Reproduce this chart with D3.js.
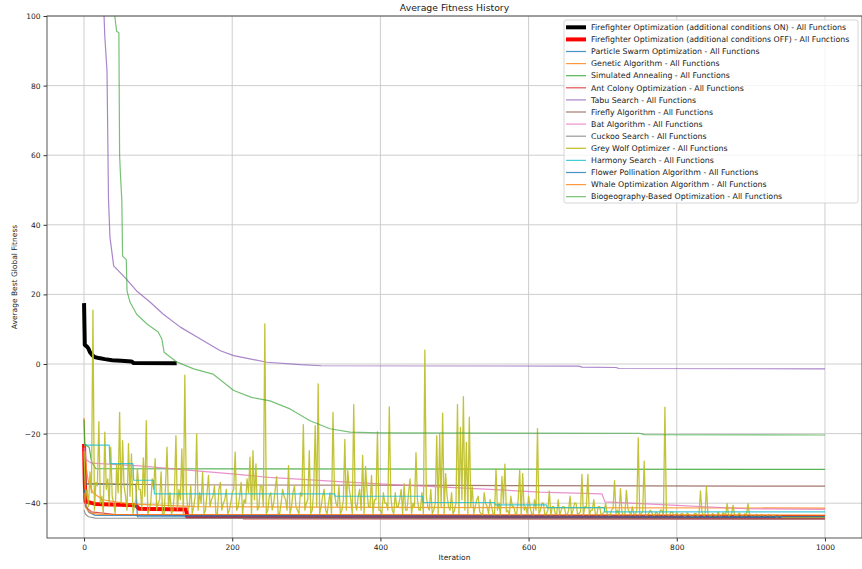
<!DOCTYPE html>
<html>
<head>
<meta charset="utf-8">
<script src="https://cdn.jsdelivr.net/npm/d3@7"></script>
<style>
    body { margin: 0; background: #fff; }
    svg { display: block; font-family: "DejaVu Sans", sans-serif; }
</style>
</head>
<body>
<div id="chart"></div>
<script>
const width = 862, height = 569;
const plot = { left: 47, right: 862, top: 16, bottom: 538 };

const iterTicks = [0, 200, 400, 600, 800, 1000];
const fitnessTicks = [-40, -20, 0, 20, 40, 60, 80, 100];

// [iteration, average best fitness], read where each curve changes
const ffOn = [[0, 17.5], [1, 5.5], [4, 5.0], [6, 4.4], [8, 3.4], [11, 2.6], [14, 2.0], [20, 1.7], [28, 1.4],
    [38, 1.1], [50, 0.9], [64, 0.7], [67, 0.3], [125, 0.2]];
const ffOff = [[0, -23], [1, -34], [2, -39.5], [15, -40.2], [70, -40.6], [74, -41.6], [138, -41.8], [139, -43.8], [1000, -44.0]];
const particleSwarm = [[0, -25], [1, -33], [3, -34.5], [70, -34.7], [72, -43.9], [1000, -44.1]];
const geneticAlg = [[0, -15.5], [1, -24], [3, -30], [6, -34], [12, -37], [25, -39], [60, -40.2], [150, -41], [400, -41.2], [1000, -41.4]];
const annealing = [[0, -16], [1, -23], [7, -24], [10, -28], [16, -30.1], [1000, -30.3]];
const antColony = [[0, -38], [2, -41], [10, -42.5], [40, -43.2], [214, -43.6], [215, -44.5], [1000, -44.6]];
const tabu = [[0, 500], [25, 110], [27, 100], [28, 94.2], [31, 84.1], [33, 47.3], [35, 36.4], [40, 28.2], [55, 24.9],
    [71, 21], [89, 17.8], [107, 14.3], [130, 10.6], [157, 7.2], [184, 3.8], [202, 2.4], [247, 0.5], [292, -0.2],
    [320, -0.5], [668, -0.6], [672, -0.9], [718, -1.0], [722, -1.3], [1000, -1.4]];
const firefly = [[0, -24], [1, -31], [3, -34.3], [100, -34.7], [500, -34.9], [1000, -35.1]];
const bat = [[0, -24], [3, -27.5], [10, -28.5], [75, -29.3], [140, -30.5], [200, -31.6], [250, -32.6], [345, -33.8],
    [430, -34.8], [528, -35.8], [615, -36.8], [699, -37.3], [703, -39.6], [800, -40.6], [892, -41.6], [1000, -41.8]];
const cuckoo = [[0, -42], [2, -43.2], [6, -43.9], [15, -44.3], [1000, -44.5]];
const harmony = [[0, -23.3], [34, -23.3], [35, -28.6], [66, -28.6], [67, -33.4], [94, -33.4], [95, -37.3], [338, -37.3],
    [339, -38], [457, -38], [458, -39.8], [554, -39.8], [555, -40.5], [624, -40.5], [625, -41.3], [702, -41.3],
    [703, -42.5], [1000, -42.5]];
const flowerPollination = [[0, -36], [2, -40], [6, -42.5], [15, -43.5], [1000, -43.8]];
const whale = [[0, -37], [3, -41.5], [8, -42.8], [20, -43.2], [1000, -43.4]];
const biogeography = [[0, 400], [35, 150], [41, 101], [42, 99], [44, 95.6], [47, 95.2], [48, 60], [49, 55], [51, 47],
    [52, 31], [57, 30], [58, 21], [62, 17.8], [71, 14.3], [85, 11.5], [100, 9.2], [105, 7.2], [108, 3.4], [125, 0.6],
    [148, -1.4], [174, -2.9], [202, -7.6], [226, -9.6], [251, -10.6], [278, -12.9], [305, -16.3], [332, -18.6],
    [359, -19.6], [400, -19.8], [750, -19.9], [756, -20.3], [1000, -20.4]];

// grey wolf is noisy: values at iterations 0, 4, 8 ... 1000
const greyWolf = [
    -25, -36, -31, 15.5, -34, -16.6, -38, -19.6, -33, -23.9,
    -40, -29, -13.9, -22, -38, -22.9, -25.8, -41, -30, -36,
    -27, -16.3, -42, -33, -27.2, -40, -31, -43, -23.9, -37,
    -42, -20.6, -36, -24.4, -3.2, -42, -35, -41, -20.1, -37,
    -31.1, -42, -32, -39, -35, -43, -34, -40, -36, -42,
    -37, -25.3, -41, -34, -39, -33, -26.8, -24.9, -28.7, -41,
    -35, 11.5, -42, -37, -40, -32.4, -43, -36, -39, -29.2,
    -41, -35, -42, -37, -17.4, -40, -24.9, -42, -17.7, -5.7,
    -41, -36, -43, -37, -13.9, -40, -35, -42, -21.7, -30.6,
    -39, -11.7, -42, -36, -26.3, -29.4, -41, -32, -39, -19.5,
    -42, -37, -40, -12.3, -42, -37, -41, -36, -34.4, -42,
    -33, -40, -25.5, -42, -37, 4.0, -41, -36, -42, -20.6,
    -20.1, -14.1, -31.5, -41, -37, -42, -11.7, -18.2, -9.4, -22.5,
    -15.3, -35.3, -41, -38, -43, -37, -41, -39, -43, -30.1,
    -40, -32.3, -28.8, -42, -38, -41, -43, -30.4, -31.5, -41,
    -38, -43, -39, -18.6, -42, -40, -43, -36.5, -41, -43,
    -39, -42, -41, -43.5, -38, -42, -40, -43, -31.7, -41,
    -31.7, -42, -39, -43.5, -41, -43, -40, -43.5, -42, -33.5,
    -42, -35.8, -43.5, -36.3, -42.5, -41, -43.5, -21.2, -43, -27.9,
    -43.5, -42, -43.5, -42.5, -43.5, -42, -12.4, -43.5, -42.5, -43.5,
    -42.8, -43.5, -43, -43.8, -43.2, -43.8, -43, -43.8, -36.5, -43.5,
    -35.2, -43.5, -43, -43.8, -42.5, -43.8, -43, -40.1, -43.5, -40.6,
    -43.5, -42.8, -43.8, -43, -40.1, -43.5, -43.8, -43.2, -43.8, -43.5,
    -43.8, -43.3, -43.8, -43.5, -43.9, -43.6, -44, -44, -44, -44,
    -44, -44, -44, -44, -44, -44, -44, -44, -44, -44,
    -44
];
// and the readings in between: iterations 2, 6, 10 ... 998
const greyWolfBetween = [
    -39, -41, -37, -42, -35, -40, -43, -36, -41, -38,
    -43, -37, -40, -35, -42, -38, -43, -39, -36, -42,
    -38, -43, -40, -36, -42, -39, -43, -35, -41, -43,
    -37, -42, -39, -43, -36, -41, -43, -38, -42, -40,
    -43, -37, -41, -38, -43, -36, -42, -39, -43, -40,
    -36, -42, -38, -43, -40, -37, -43, -39, -42, -35,
    -41, -43, -38, -42, -36, -43, -40, -38, -42, -43,
    -37, -41, -43, -38, -42, -39, -43, -36, -41, -43,
    -38, -42, -40, -43, -37, -41, -43, -39, -42, -36,
    -43, -40, -38, -42, -43, -37, -41, -43, -39, -42,
    -43, -40, -42, -38, -43, -41, -39, -43, -42, -37,
    -43, -41, -39, -42, -43, -38, -42, -43, -40, -43,
    -41, -43, -38, -42, -43, -40, -43, -39, -42, -43,
    -41, -43, -39, -42.5, -43.5, -40, -43, -41, -43.5, -42,
    -43.5, -40, -42.5, -43.5, -41, -43, -39, -43.5, -42, -43,
    -41, -43.5, -42, -43, -40, -43.5, -42, -43.5, -41, -43,
    -43.5, -41, -43, -42, -43.5, -40, -43, -42.5, -43.5, -41,
    -43.5, -42, -43, -41, -43.5, -42.5, -43, -43.5, -41.5, -43,
    -43.5, -42.5, -43, -41.5, -43.5, -43, -42, -43.5, -42.5, -43.5,
    -43, -42.5, -43.5, -43, -42, -43.5, -43, -43.5, -42.5, -43.5,
    -43.5, -43, -43.8, -42.8, -43.5, -43.8, -43, -43.5, -42.5, -43.8,
    -43, -43.8, -43.2, -43.5, -43.8, -42.8, -43.5, -43.8, -43, -43.5,
    -43.8, -43.2, -43.5, -43.8, -43, -43.8, -43.5, -43.8, -43.3, -43.8,
    -43.6, -43.8, -43.5, -43.9, -43.7, -44, -44, -44, -44, -44,
    -44, -44, -44, -44, -44, -44, -44, -44, -44, -44
];

const names = [
    'Firefighter Optimization (additional conditions ON) - All Functions',
    'Firefighter Optimization (additional conditions OFF) - All Functions',
    'Particle Swarm Optimization - All Functions',
    'Genetic Algorithm - All Functions',
    'Simulated Annealing - All Functions',
    'Ant Colony Optimization - All Functions',
    'Tabu Search - All Functions',
    'Firefly Algorithm - All Functions',
    'Bat Algorithm - All Functions',
    'Cuckoo Search - All Functions',
    'Grey Wolf Optimizer - All Functions',
    'Harmony Search - All Functions',
    'Flower Pollination Algorithm - All Functions',
    'Whale Optimization Algorithm - All Functions',
    'Biogeography-Based Optimization - All Functions'
];
const colors = ['#000000', '#ff0000', '#1f77b4', '#ff7f0e', '#2ca02c', '#d62728', '#9467bd', '#8c564b',
    '#e377c2', '#7f7f7f', '#bcbd22', '#17becf', '#1f77b4', '#ff7f0e', '#2ca02c'];

const greyWolfPoints = greyWolf.map((v, i) => [i * 4, v])
    .concat(greyWolfBetween.map((v, i) => [i * 4 + 2, v]))
    .sort((a, b) => a[0] - b[0]);

const dataSets = [ffOn, ffOff, particleSwarm, geneticAlg, annealing, antColony, tabu, firefly, bat, cuckoo,
    greyWolfPoints, harmony, flowerPollination, whale, biogeography];

const series = names.map((name, i) => ({
    name,
    data: dataSets[i],
    color: colors[i],
    width: i < 2 ? 4 : (i === 10 ? 1.3 : 1.2),
    opacity: i < 2 ? 1 : (i === 14 ? 0.65 : (i === 10 ? 0.9 : 0.8))
}));

const svg = d3.select('#chart').append('svg')
    .attr('width', width)
    .attr('height', height);

const x = d3.scaleLinear().domain([-50, 1050]).range([plot.left, plot.right]);
const y = d3.scaleLinear().domain([-50, 100]).range([plot.bottom, plot.top]);

svg.append('defs').append('clipPath')
    .attr('id', 'plot-clip')
    .append('rect')
    .attr('x', plot.left)
    .attr('y', plot.top)
    .attr('width', plot.right - plot.left)
    .attr('height', plot.bottom - plot.top);

// grid
const grid = svg.append('g').attr('class', 'grid');
grid.selectAll('.gx').data(iterTicks).enter().append('line')
    .attr('x1', d => x(d)).attr('x2', d => x(d))
    .attr('y1', plot.top).attr('y2', plot.bottom)
    .attr('stroke', '#c8c8c8').attr('stroke-width', 0.9);
grid.selectAll('.gy').data(fitnessTicks).enter().append('line')
    .attr('x1', plot.left).attr('x2', plot.right)
    .attr('y1', d => y(d)).attr('y2', d => y(d))
    .attr('stroke', '#c8c8c8').attr('stroke-width', 0.9);

// lines
const line = d3.line().x(d => x(d[0])).y(d => y(d[1]));
svg.append('g')
    .attr('clip-path', 'url(#plot-clip)')
    .selectAll('path')
    .data(series)
    .enter().append('path')
    .attr('d', d => line(d.data))
    .attr('fill', 'none')
    .attr('stroke', d => d.color)
    .attr('stroke-width', d => d.width)
    .attr('stroke-opacity', d => d.opacity)
    .attr('stroke-linejoin', 'round');

// axes
const xAxis = svg.append('g')
    .attr('transform', `translate(0,${plot.bottom})`)
    .call(d3.axisBottom(x).tickValues(iterTicks).tickFormat(d3.format('d')).tickSize(3.5).tickPadding(3));
const yAxis = svg.append('g')
    .attr('transform', `translate(${plot.left},0)`)
    .call(d3.axisLeft(y).tickValues(fitnessTicks).tickFormat(d3.format('d')).tickSize(3.5).tickPadding(3));
[xAxis, yAxis].forEach(a => {
    a.select('.domain').remove();
    a.selectAll('line').attr('stroke', '#333');
    a.selectAll('text').attr('fill', '#222').style('font-size', '7.5px').style('font-family', '"DejaVu Sans", sans-serif');
});

svg.append('rect')
    .attr('x', plot.left).attr('y', plot.top)
    .attr('width', plot.right - plot.left).attr('height', plot.bottom - plot.top)
    .attr('fill', 'none').attr('stroke', '#444').attr('stroke-width', 0.9);

// labels
svg.append('text')
    .attr('x', (plot.left + plot.right) / 2).attr('y', 11)
    .attr('text-anchor', 'middle')
    .style('font-size', '9.3px').attr('fill', '#222')
    .text('Average Fitness History');
svg.append('text')
    .attr('x', (plot.left + plot.right) / 2).attr('y', 560)
    .attr('text-anchor', 'middle')
    .style('font-size', '7.5px').attr('fill', '#222')
    .text('Iteration');
svg.append('text')
    .attr('transform', `translate(17,${(plot.top + plot.bottom) / 2}) rotate(-90)`)
    .attr('text-anchor', 'middle')
    .style('font-size', '7.5px').attr('fill', '#222')
    .text('Average Best Global Fitness');

// legend
const legend = svg.append('g').attr('transform', 'translate(564,20)');
legend.append('rect')
    .attr('width', 294).attr('height', 183).attr('rx', 2)
    .attr('fill', '#fff').attr('fill-opacity', 0.8)
    .attr('stroke', '#ccc').attr('stroke-width', 0.8);
const item = legend.selectAll('.item').data(series).enter().append('g')
    .attr('transform', (d, i) => `translate(0,${7.3 + i * 12.1})`);
item.append('line')
    .attr('x1', 2).attr('x2', 22)
    .attr('stroke', d => d.color)
    .attr('stroke-width', d => d.width)
    .attr('stroke-opacity', d => d.opacity);
item.append('text')
    .attr('x', 27).attr('dy', '0.35em')
    .style('font-size', '7.85px').attr('fill', '#222')
    .text(d => d.name);
</script>
</body>
</html>
